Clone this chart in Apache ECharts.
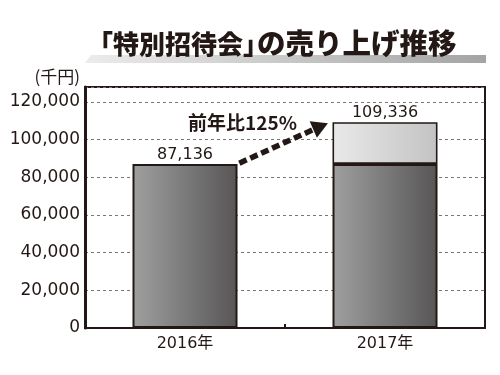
<!DOCTYPE html>
<html><head><meta charset="utf-8">
<script src="https://cdn.jsdelivr.net/npm/echarts@6/dist/echarts.min.js"></script>
<style>html,body{margin:0;padding:0;background:#fff}#c{width:500px;height:375px}</style>
</head><body><div id="c"></div>
<script>
// ---- data ----
const categories = ['2016年', '2017年'];
const baseValues = [87136, 87136];       // dark segment
const increaseValues = [0, 22200];       // light segment (increase)
const totals = [87136, 109336];
const yTicks = [0, 20000, 40000, 60000, 80000, 100000, 120000];
const yMax = 128000;
const titleParts = ['「特別招待会」', 'の売り上げ推移'];
const unitLabel = '(千円)';
const growthLabel = '前年比125%';
const arrowFrom = [0, 87136];
const arrowTo = [1, 109336];

// ---- styles ----
const INK = '#231815';
const NUM_FONT = "'DejaVu Sans','Noto Sans CJK JP',sans-serif";
const CJK_FONT = "'Noto Sans CJK JP',sans-serif";
const BAR_W = 105;
const fmt = v => v.toLocaleString('en-US');

const chart = echarts.init(document.getElementById('c'), null, {renderer: 'canvas'});

const grad = (a, b) => new echarts.graphic.LinearGradient(0, 0, 1, 0, [{offset: 0, color: a}, {offset: 1, color: b}]);
const titleStyle = {fontFamily: CJK_FONT, fontWeight: 900, fontSize: 26, color: INK};

const option = {
  animation: false,
  backgroundColor: '#fff',
  title: [
    {text: titleParts[0], left: 87, top: 31, padding: 0, textStyle: titleStyle},
    {text: titleParts[1], left: 257, top: 29, padding: 0, textStyle: Object.assign({}, titleStyle, {fontSize: 28.5})}
  ],
  graphic: [
    {
      type: 'polygon', z: -1,
      shape: {points: [[85, 63], [91, 55], [486, 55], [486, 63]]},
      style: {fill: new echarts.graphic.LinearGradient(0, 0, 1, 0, [
        {offset: 0, color: '#ececec'}, {offset: 1, color: '#a4a4a4'}])}
    },
    {
      type: 'text', left: 188, top: 113, z: 10,
      style: {text: growthLabel, font: "bold 19px 'Noto Sans CJK JP'", fill: INK}
    }
  ],
  grid: {
    left: 85, right: 15, top: 87, bottom: 47,
    show: true, borderColor: INK, borderWidth: 2, backgroundColor: 'transparent'
  },
  xAxis: {
    type: 'category', data: categories,
    axisLine: {show: true, lineStyle: {color: INK, width: 2}},
    axisTick: {show: true, inside: true, length: 4, lineStyle: {color: INK, width: 2}},
    axisLabel: {fontFamily: NUM_FONT, fontSize: 16, color: INK, margin: 8}
  },
  yAxis: {
    type: 'value', min: yTicks[0], max: yMax, interval: yTicks[1] - yTicks[0],
    name: unitLabel, nameLocation: 'end', nameGap: 10,
    nameTextStyle: {fontFamily: CJK_FONT, fontSize: 17, color: INK, align: 'right', verticalAlign: 'middle', padding: [0, 5, 0, 0]},
    axisLine: {show: true, lineStyle: {color: INK, width: 3}},
    axisTick: {show: false},
    axisLabel: {
      fontFamily: NUM_FONT, fontSize: 17, color: INK, margin: 5,
      formatter: v => yTicks.includes(v) ? fmt(v) : ''
    },
    splitLine: {show: true, lineStyle: {color: '#777', width: 1, type: [3, 3]}}
  },
  series: [
    {
      type: 'bar', stack: 'sales', barWidth: BAR_W,
      data: baseValues.map((v, i) => ({
        value: v,
        label: {show: !increaseValues[i], position: 'top', distance: 1,
          formatter: () => fmt(totals[i]), fontFamily: NUM_FONT, fontSize: 16, color: INK}
      })),
      itemStyle: {color: grad('#a0a0a0', '#575555'), borderColor: INK, borderWidth: 2}
    },
    {
      type: 'bar', stack: 'sales', barWidth: BAR_W,
      data: increaseValues.map((v, i) => v ? ({
        value: v,
        label: {show: true, position: 'top', distance: 1,
          formatter: () => fmt(totals[i]), fontFamily: NUM_FONT, fontSize: 16, color: INK}
      }) : '-'),
      itemStyle: {color: grad('#e9e9e9', '#c3c3c3'), borderColor: INK, borderWidth: 1.6}
    },
    {
      type: 'custom', coordinateSystem: 'cartesian2d', z: 5,
      data: [[arrowFrom[0], arrowFrom[1], arrowTo[0], arrowTo[1]]],
      renderItem: (params, api) => {
        const half = BAR_W / 2;
        const a = api.coord([api.value(0), api.value(1)]);
        const b = api.coord([api.value(2), api.value(3)]);
        const p0 = [a[0] + half, a[1]];
        const p1 = [b[0] - half, b[1]];
        const dx = p1[0] - p0[0], dy = p1[1] - p0[1];
        const L = Math.hypot(dx, dy);
        const ux = dx / L, uy = dy / L, nx = -uy, ny = ux;
        const tip = [p1[0] - ux * 5, p1[1] - uy * 5 - 1];
        const head = 16, hw = 9;
        const base = [tip[0] - ux * head, tip[1] - uy * head];
        return {
          type: 'group',
          children: [
            {type: 'line', shape: {x1: p0[0] + ux * 2, y1: p0[1] + uy * 2, x2: base[0] + ux * 2, y2: base[1] + uy * 2},
             style: {stroke: INK, lineWidth: 5.5, lineDash: [8, 4]}},
            {type: 'polygon', shape: {points: [tip, [base[0] + nx * hw, base[1] + ny * hw], [base[0] - nx * hw, base[1] - ny * hw]]},
             style: {fill: INK}}
          ]
        };
      }
    }
  ]
};
chart.setOption(option);
</script></body></html>
